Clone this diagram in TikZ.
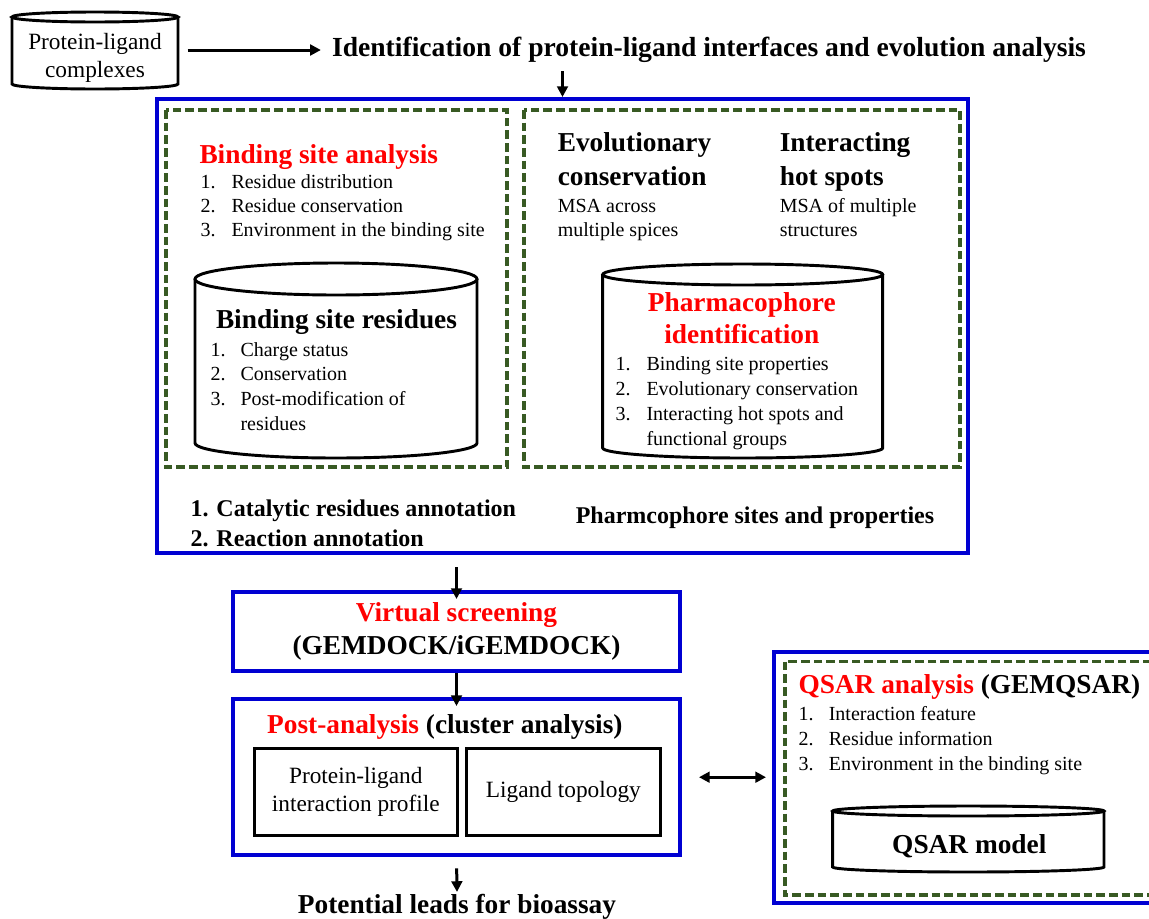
\documentclass[tikz,border=0pt]{standalone}
\usepackage{fontspec}
\setmainfont{Liberation Serif}
\usetikzlibrary{arrows.meta}

\definecolor{boxblue}{RGB}{0,0,210}
\definecolor{dashgreen}{RGB}{56,90,35}
\definecolor{headred}{RGB}{255,0,0}

\tikzset{every picture/.style={line width=0.75pt}}
\tikzset{
  bluebox/.style={draw=boxblue, line width=3pt, inner sep=0pt},
  dashbox/.style={draw=dashgreen, line width=2.4pt, dash pattern=on 6.5pt off 3pt},
  blackbox/.style={draw, line width=2.25pt, inner sep=0pt},
  cyl/.style={line width=2.2pt, fill=white},
  arr/.style={line width=2.25pt, -{Triangle[length=8pt,width=8pt]}},
  arrboth/.style={line width=2.25pt, {Triangle[length=8pt,width=8pt]}-{Triangle[length=8pt,width=8pt]}},
  headtxt/.style={font=\fontsize{20.5}{24.3}\selectfont\bfseries, inner sep=0pt},
  bigtxt/.style={font=\fontsize{18}{22}\selectfont\bfseries, inner sep=0pt},
  boxtxt/.style={font=\fontsize{17.5}{21.2}\selectfont, inner sep=0pt},
  listtxt/.style={font=\fontsize{15}{18}\selectfont, inner sep=0pt}
}

\begin{document}
\begin{tikzpicture}[x=0.75pt,y=0.75pt,yscale=-1,xscale=1]
\useasboundingbox (0,0) rectangle (1149,918);

%Shape: Big box [id:idbox]
\node (idbox) [bluebox, minimum width=608.25pt, minimum height=340.5pt] at (562.5,326) {};
%Shape: Dashed boxes
\draw [dashbox] (166,110) rectangle (507,467) ;
\draw [dashbox] (524,110) rectangle (960,467) ;

%Shape: Can [protein-ligand complexes]
\draw [cyl] (12,17) -- (12,84) arc [start angle=180, end angle=0, x radius=83, y radius=5] -- (178,17) ;
\draw [cyl] (95,17) ellipse [x radius=83, y radius=5] ;
%Shape: Can [binding site residues]
\draw [cyl] (195,279) -- (195,443) arc [start angle=180, end angle=0, x radius=141, y radius=15] -- (477,279) ;
\draw [cyl] (336,279) ellipse [x radius=141, y radius=16] ;
%Shape: Can [pharmacophore]
\draw [cyl] (602.7,274.5) -- (602.7,448) arc [start angle=180, end angle=0, x radius=140, y radius=10] -- (882.7,274.5) ;
\draw [cyl] (742.7,274.5) ellipse [x radius=140, y radius=10.5] ;

% Text Node
\node (plc) [boxtxt, minimum width=124.5pt, anchor=base] at (95,49) {\begin{tabular}[t]{@{}c@{}}Protein-ligand\\complexes\end{tabular}};
% Text Node
\node (ident) [bigtxt, font=\fontsize{20.7}{24}\selectfont\bfseries, inner xsep=8pt, inner ysep=6pt] at (709,50) {Identification of protein-ligand interfaces and evolution analysis};

% Text Node
\node (bsahead) [headtxt, text=headred, anchor=base west] at (199,163) {Binding site analysis};
% Text Node
\node (bsalist) [listtxt, anchor=base west] at (200,188.3) {\begin{tabular}[t]{@{}p{23.25pt}@{}l@{}}
1.&Residue distribution\\
2.&Residue conservation\\
3.&Environment in the binding site
\end{tabular}};
% Text Node
\node (bsrhead) [headtxt, anchor=base] at (336.5,328) {Binding site residues};
% Text Node
\node (bsrlist) [listtxt, font=\fontsize{15}{18.5}\selectfont, anchor=base west] at (210,356) {\begin{tabular}[t]{@{}p{22.5pt}@{}l@{}}
1.&Charge status\\
2.&Conservation\\
3.&Post-modification of\\
&residues
\end{tabular}};

% Text Node
\node (evohead) [headtxt, font=\fontsize{20.5}{25.7}\selectfont\bfseries, anchor=base west] at (557.3,151.7) {\begin{tabular}[t]{@{}l@{}}Evolutionary\\conservation\end{tabular}};
% Text Node
\node (evotxt) [listtxt, anchor=base west] at (557.3,212.3) {\begin{tabular}[t]{@{}l@{}}MSA across\\multiple spices\end{tabular}};
% Text Node
\node (hothead) [headtxt, font=\fontsize{20.5}{25.7}\selectfont\bfseries, anchor=base west] at (779.3,151.7) {\begin{tabular}[t]{@{}l@{}}Interacting\\hot spots\end{tabular}};
% Text Node
\node (hottxt) [listtxt, anchor=base west] at (779.3,212.3) {\begin{tabular}[t]{@{}l@{}}MSA of multiple\\structures\end{tabular}};
% Text Node
\node (phhead) [headtxt, text=headred, anchor=base] at (741.8,311) {\begin{tabular}[t]{@{}c@{}}Pharmacophore\\identification\end{tabular}};
% Text Node
\node (phlist) [listtxt, font=\fontsize{15}{18.75}\selectfont, anchor=base west] at (615,370) {\begin{tabular}[t]{@{}p{23.25pt}@{}l@{}}
1.&Binding site properties\\
2.&Evolutionary conservation\\
3.&Interacting hot spots and\\
&functional groups
\end{tabular}};

% Text Node
\node (catlist) [bigtxt, anchor=base west] at (190,516.7) {\begin{tabular}[t]{@{}l@{}}1. Catalytic residues annotation\\2. Reaction annotation\end{tabular}};
% Text Node
\node (phsites) [bigtxt, anchor=base] at (755,523.5) {Pharmcophore sites and properties};

%Shape: Virtual screening box
\node (vsbox) [bluebox, minimum width=335.25pt, minimum height=59.5pt, align=center, font=\fontsize{20.5}{24.3}\selectfont\bfseries] at (456.5,631.3) {\textcolor{headred}{Virtual screening}\\(GEMDOCK/iGEMDOCK)};

%Shape: Post-analysis box
\node (pabox) [bluebox, minimum width=335.25pt, minimum height=116.8pt] at (456.5,777.2) {};
% Text Node
\node (pahead) [headtxt, anchor=base west] at (266.7,733.3) {\textcolor{headred}{Post-analysis} (cluster analysis)};
\node (plip) [blackbox, boxtxt, minimum width=152.25pt, minimum height=65.5pt, align=center] at (355.8,792) {Protein-ligand\\interaction profile};
\node (topo) [blackbox, boxtxt, minimum width=146pt, minimum height=65.5pt] at (563.4,792) {Ligand topology};
% Text Node
\node (leads) [headtxt, inner sep=1pt, anchor=base] at (457,913) {Potential leads for bioassay};

%Shape: QSAR box
\node (qsbox) [bluebox, minimum width=289.5pt, minimum height=188.7pt] at (967,777.5) {};
\draw [dashbox] (785,661.7) rectangle (1153,895) ;
%Shape: Can [QSAR model]
\draw [cyl] (832.7,811) -- (832.7,867) arc [start angle=180, end angle=0, x radius=135.65, y radius=5] -- (1104,811) ;
\draw [cyl] (968.35,811) ellipse [x radius=135.65, y radius=5] ;
% Text Node
\node (qshead) [headtxt, anchor=base west] at (798,693.3) {\textcolor{headred}{QSAR analysis} (GEMQSAR)};
% Text Node
\node (qslist) [listtxt, font=\fontsize{15}{18.75}\selectfont, anchor=base west] at (798,720.7) {\begin{tabular}[t]{@{}p{22.75pt}@{}l@{}}
1.&Interaction feature\\
2.&Residue information\\
3.&Environment in the binding site
\end{tabular}};
% Text Node
\node (qsmodel) [headtxt, anchor=base] at (969.3,853.3) {QSAR model};

%Straight Lines
\draw [arr, shorten <=6.75pt] (plc.east |- ident.west) -- (ident.west) ;
\draw [arr] (ident.south -| idbox.north) -- (idbox.north) ;
\draw [arr, shorten <=9pt, shorten >=-7pt] (idbox.south -| vsbox.north) -- (vsbox.north) ;
\draw [arr, shorten >=-6.5pt] (vsbox.south) -- (pabox.north) ;
\draw [arr, shorten <=8.5pt] (pabox.south) -- (leads.north) ;
\draw [arrboth, shorten <=12.75pt, shorten >=4.5pt] (pabox.east) -- (pabox.east -| qsbox.west) ;

\end{tikzpicture}
\end{document}
